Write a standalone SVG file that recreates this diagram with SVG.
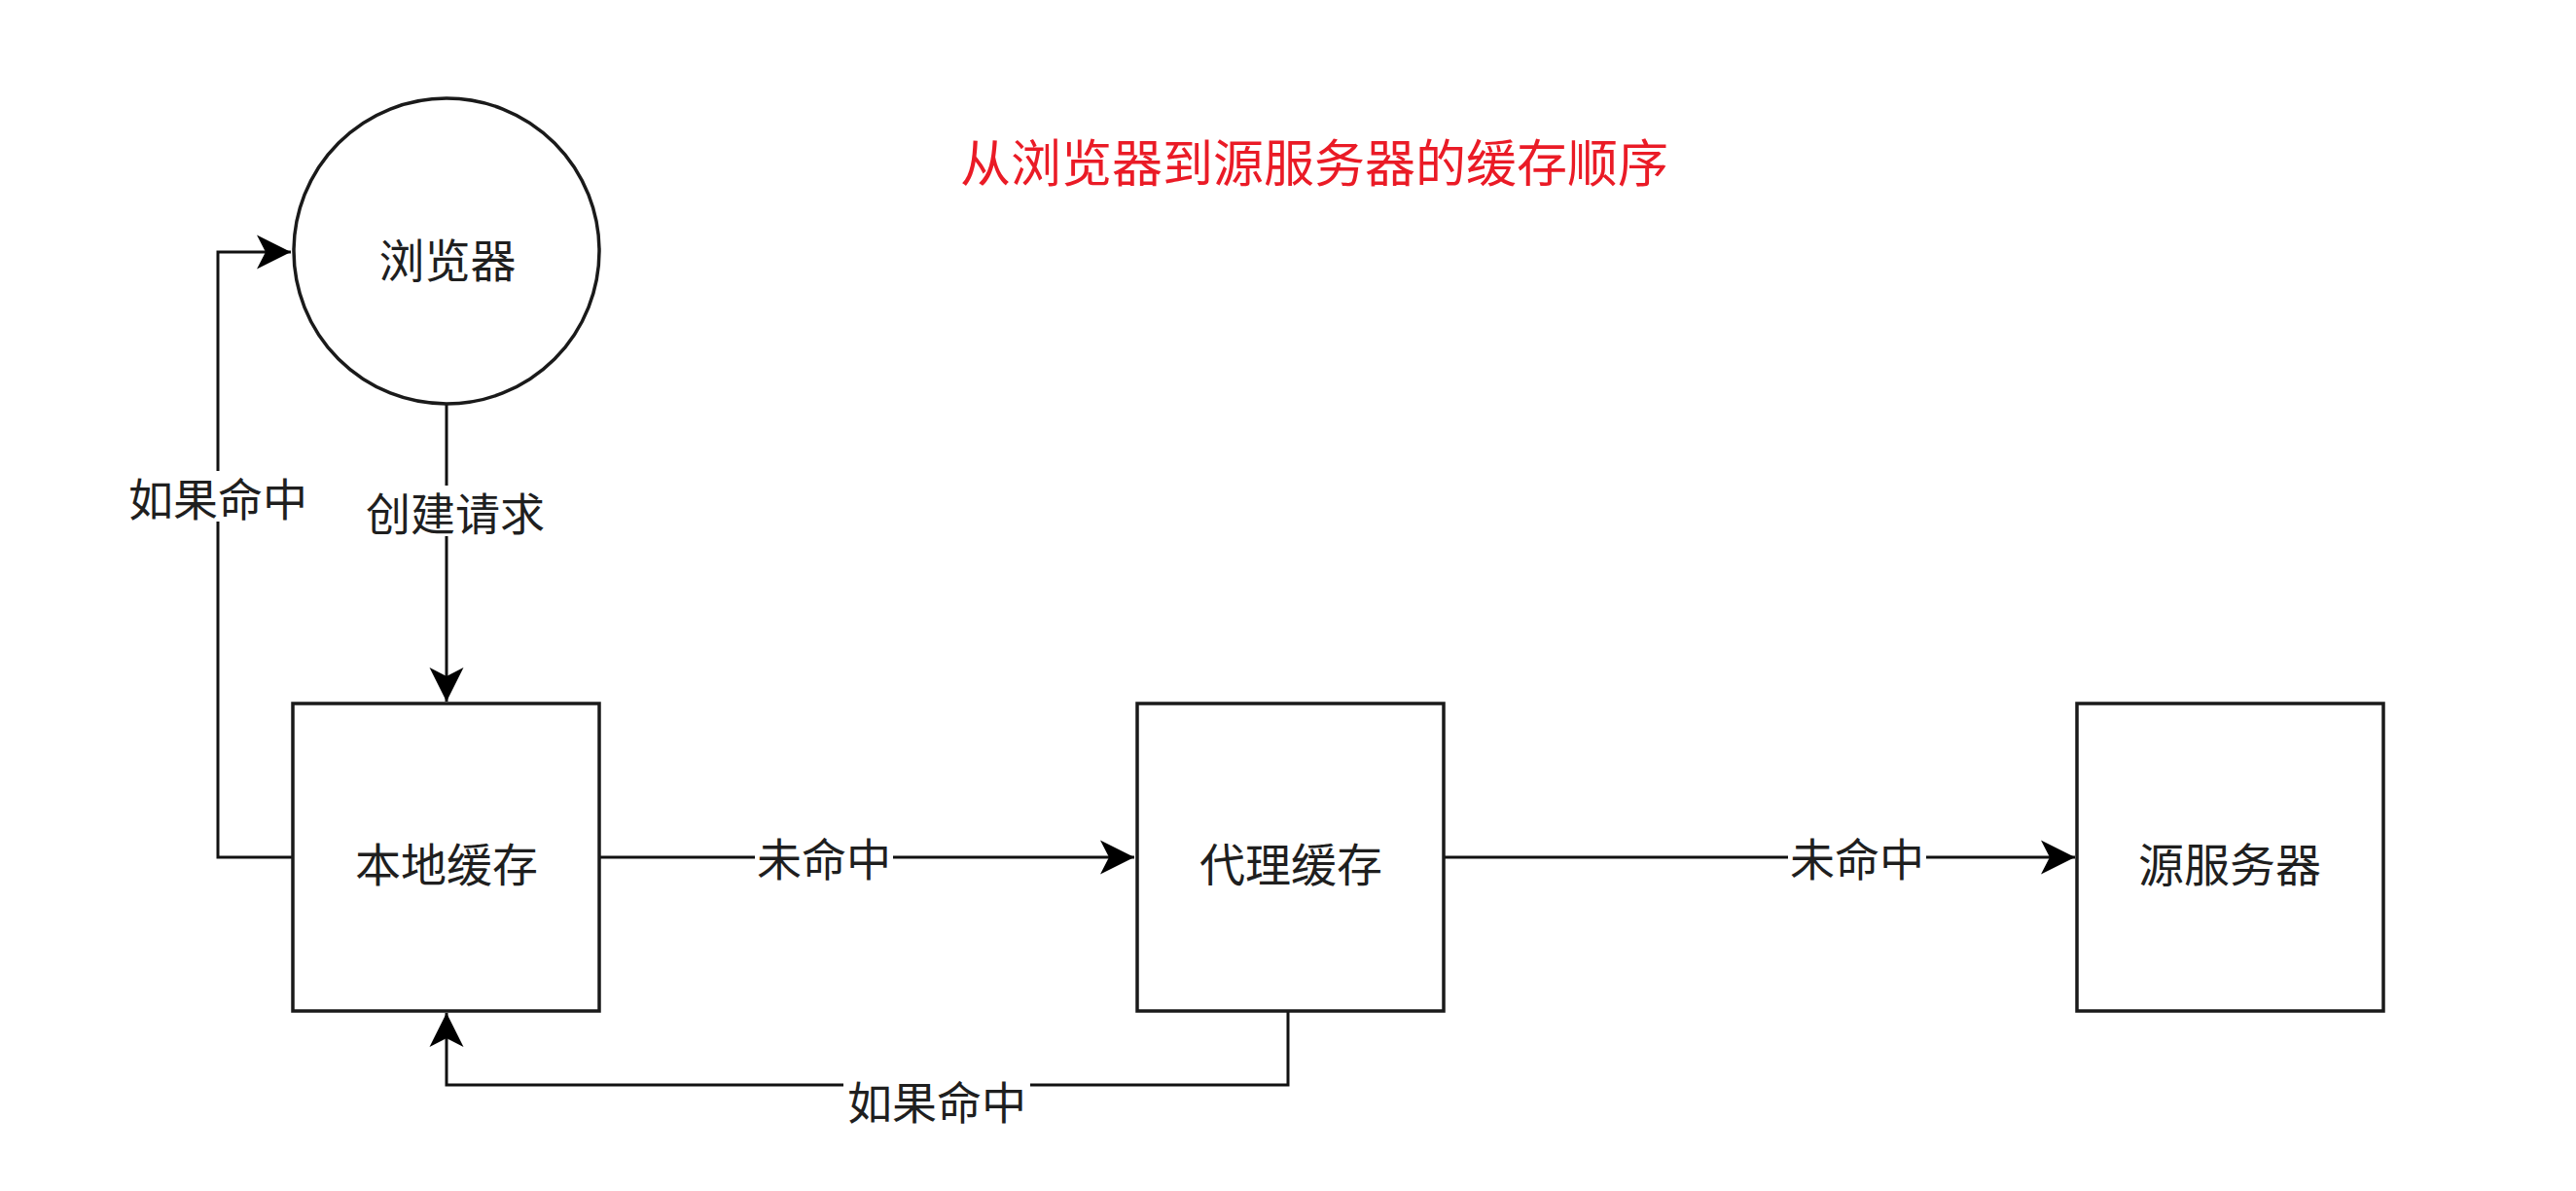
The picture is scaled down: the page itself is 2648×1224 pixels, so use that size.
<svg xmlns="http://www.w3.org/2000/svg" width="2648" height="1224" viewBox="0 0 2648 1224">
<style>
.node{fill:#ffffff;stroke:#1a1a1a;stroke-width:3.5}
.lbl{font-family:"Noto Sans CJK SC","Noto Sans",sans-serif;font-size:47px;fill:#1f1f1f;text-anchor:middle;dominant-baseline:central}
.elbl{font-family:"Noto Sans CJK SC","Noto Sans",sans-serif;font-size:46px;fill:#1f1f1f;text-anchor:middle;dominant-baseline:central}
.edge{fill:none;stroke:#111111;stroke-width:3}
.bg{fill:#ffffff}
.title{font-family:"Noto Sans CJK SC","Noto Sans",sans-serif;font-size:52px;fill:#ea1b26;text-anchor:middle;dominant-baseline:central}
</style>
<defs>
<marker id="arr" markerUnits="userSpaceOnUse" markerWidth="40" markerHeight="40" viewBox="-36 -20 40 40" refX="0" refY="0" orient="auto">
<path d="M0,0 L-35,-17.5 L-26,0 L-35,17.5 Z" fill="#000000"/>
</marker>
</defs>
<rect x="0" y="0" width="2648" height="1224" fill="#ffffff"/>
<text class="title" x="1351" y="164">从浏览器到源服务器的缓存顺序</text>
<g id="connectors">
<path class="edge" d="M459,416 L459,721" marker-end="url(#arr)"/>
<path class="edge" d="M301,881 L224,881 L224,259 L299,259" marker-end="url(#arr)"/>
<path class="edge" d="M616,881 L1166,881" marker-end="url(#arr)"/>
<path class="edge" d="M1484,881 L2133,881" marker-end="url(#arr)"/>
<path class="edge" d="M1324,1039 L1324,1115 L459,1115 L459,1041" marker-end="url(#arr)"/>
<rect class="bg" x="128" y="484" width="192" height="52"/>
<text class="elbl" x="224" y="510">如果命中</text>
<rect class="bg" x="372" y="499" width="192" height="52"/>
<text class="elbl" x="468" y="525">创建请求</text>
<rect class="bg" x="776" y="856" width="142" height="52"/>
<text class="elbl" x="847" y="880">未命中</text>
<rect class="bg" x="1838" y="856" width="142" height="52"/>
<text class="elbl" x="1909" y="880">未命中</text>
<rect class="bg" x="867" y="1104" width="192" height="52"/>
<text class="elbl" x="963" y="1130">如果命中</text>
</g>
<g id="browser">
<circle class="node" cx="459" cy="258" r="157"/>
<text class="lbl" x="460" y="264">浏览器</text>
</g>
<g id="local-cache">
<rect class="node" x="301" y="723" width="315" height="316"/>
<text class="lbl" x="459" y="885">本地缓存</text>
</g>
<g id="proxy-cache">
<rect class="node" x="1169" y="723" width="315" height="316"/>
<text class="lbl" x="1327" y="885">代理缓存</text>
</g>
<g id="origin-server">
<rect class="node" x="2135" y="723" width="315" height="316"/>
<text class="lbl" x="2292" y="885">源服务器</text>
</g>
</svg>
